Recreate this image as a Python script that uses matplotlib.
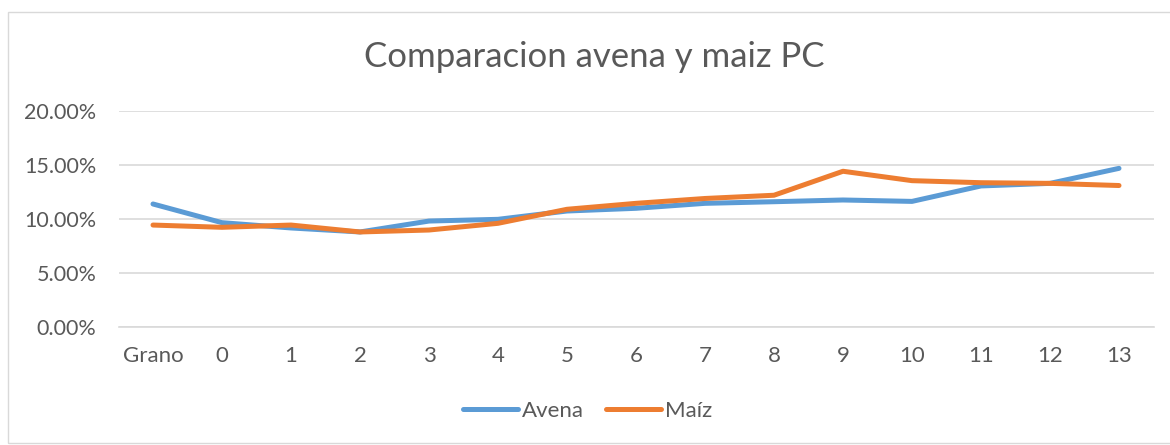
import matplotlib
matplotlib.use("Agg")
import matplotlib.pyplot as plt
from matplotlib.patches import Rectangle
from matplotlib.ticker import FuncFormatter

categories = ["Grano", "0", "1", "2", "3", "4", "5", "6", "7", "8", "9", "10", "11", "12", "13"]
avena = [11.39, 9.66, 9.17, 8.80, 9.81, 9.97, 10.74, 10.99, 11.45, 11.60, 11.76, 11.63, 13.06, 13.30, 14.69]
maiz = [9.44, 9.23, 9.44, 8.80, 8.98, 9.60, 10.90, 11.45, 11.90, 12.20, 14.42, 13.55, 13.36, 13.30, 13.10]

plt.rcParams['font.family'] = ['Lato', 'DejaVu Sans']
txt = '#595959'
grid = '#D9D9D9'

fig = plt.figure(figsize=(11.7, 4.45), dpi=100)
fig.patches.append(Rectangle((8/1170, 2/445), 1.0, 1 - 14/445, transform=fig.transFigure,
                             fill=False, edgecolor='#D9D9D9', linewidth=1.0))
ax = fig.add_axes([118.5/1170, (445-327)/445, (1153.5-118.5)/1170, (327-111)/445])

x = list(range(len(categories)))
ax.plot(x, avena, color='#5B9BD5', linewidth=3.6, solid_capstyle='round', solid_joinstyle='round', label='Avena')
ax.plot(x, maiz, color='#ED7D31', linewidth=3.6, solid_capstyle='round', solid_joinstyle='round', label='Maíz')

ax.set_xlim(-0.5, len(categories) - 0.5)
ax.set_ylim(0, 20)
ax.set_yticks([0, 5, 10, 15, 20])
ax.yaxis.set_major_formatter(FuncFormatter(lambda v, p: f"{v:.2f}%"))
ax.set_xticks(x)
ax.set_xticklabels(categories)
ax.grid(axis='y', color=grid, linewidth=1.2)
ax.set_axisbelow(True)
for s in ['top', 'right', 'left']:
    ax.spines[s].set_visible(False)
ax.spines['bottom'].set_color(grid)
ax.spines['bottom'].set_linewidth(1.2)
ax.tick_params(axis='both', length=0, colors=txt)
ax.tick_params(axis='x', pad=14, labelsize=16)
ax.tick_params(axis='y', pad=16, labelsize=15.5)

fig.text(594/1170, 1 - 57/445, "Comparacion avena y maiz PC", ha='center', va='center',
         fontsize=25, color=txt)

leg = fig.legend(loc='center', bbox_to_anchor=(588/1170, 1 - 411/445), ncol=2, frameon=False,
                 fontsize=16, handlelength=2.45, handletextpad=0.2, columnspacing=1.0)
for t in leg.get_texts():
    t.set_color(txt)

fig.savefig("out.png", dpi=100, facecolor='white')
